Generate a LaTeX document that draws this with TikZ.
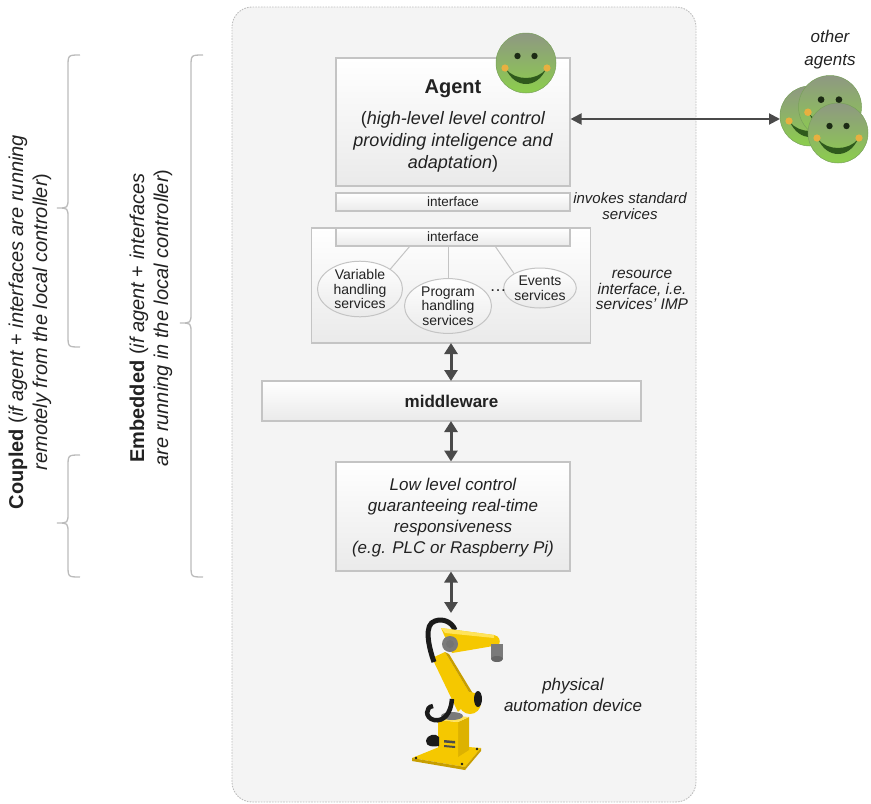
\documentclass[tikz,border=0pt]{standalone}
\usepackage{fontspec}
\setmainfont{Liberation Sans}
\usetikzlibrary{arrows.meta,shapes.geometric}

\definecolor{panel}{HTML}{F4F4F4}
\definecolor{panelline}{HTML}{BDBDBD}
\definecolor{boxline}{HTML}{C4C4C4}
\definecolor{boxbot}{HTML}{EAEAEA}
\definecolor{ink}{HTML}{222222}
\definecolor{arrowc}{HTML}{4A4A4A}
\definecolor{bracec}{HTML}{BBBBBB}
\definecolor{smtop}{RGB}{142,152,130}
\definecolor{smbot}{RGB}{140,206,76}
\definecolor{smedge}{RGB}{120,160,90}
\definecolor{smeye}{HTML}{1C2A14}
\definecolor{smmouth}{HTML}{2F5A1C}
\definecolor{cheek}{HTML}{E8B040}
\definecolor{yel}{HTML}{F5C800}
\definecolor{yeldark}{HTML}{C79E00}
\definecolor{yelside}{HTML}{DDB200}
\definecolor{yellight}{HTML}{FFE35A}
\definecolor{cable}{HTML}{1A1A1A}
\definecolor{jointc}{HTML}{7A7A7A}

\begin{document}
\begin{tikzpicture}[x=1pt,y=-1pt,
  box/.style={draw=boxline, line width=1.1pt, top color=white, bottom color=boxbot,
    inner sep=0pt, text=ink},
  svc/.style={ellipse, draw=boxline, line width=1pt, top color=white, bottom color=boxbot,
    inner sep=0pt, text=ink, align=center, font=\fontsize{14}{14.5}\selectfont},
  note/.style={text=ink, align=center, font=\fontsize{15}{16}\selectfont\itshape},
  dbl/.style={{Triangle[width=13pt,length=11pt]}-{Triangle[width=13pt,length=11pt]},
    line width=3pt, draw=arrowc},
  link/.style={draw=boxline, line width=1pt},
  bracket/.style={draw=bracec, line width=1.3pt},
  smiley/.pic={
    \shade[top color=smtop, bottom color=smbot] (0,0) circle[radius=30];
    \draw[smedge, line width=0.5pt] (0,0) circle[radius=30];
    \fill[smeye] (-8.5,-7) circle[radius=3.2];
    \fill[smeye] (8.5,-7) circle[radius=3.2];
    \fill[smmouth] (-20,6) .. controls (-11,26) and (11,26) .. (20,6)
      .. controls (11,18) and (-11,18) .. (-20,6) -- cycle;
    \fill[cheek] (-21,5) circle[radius=3.6];
    \fill[cheek] (21,5) circle[radius=3.6];
  }]
\useasboundingbox (0,0) rectangle (871,804);

% dashed panel holding the controller stack
\draw[panelline, line width=0.9pt, dash pattern=on 1.6pt off 1.2pt, fill=panel,
  rounded corners=20pt] (232,7) rectangle (696,802);

% agent block
\node[box, minimum width=234pt, minimum height=128pt] (agent) at (453,122) {};
\node[text=ink, font=\fontsize{20}{24}\selectfont\bfseries, anchor=base] (agenttitle)
  at (453,93) {Agent};
\node[text=ink, align=center, font=\fontsize{18}{22}\selectfont] (agentdesc) at (453,142)
  {({\itshape high-level level control}\\{\itshape providing inteligence and}\\{\itshape adaptation})};
\pic at (526,63) {smiley};

% interfaces
\node[box, minimum width=234pt, minimum height=18pt, font=\fontsize{13.5}{14}\selectfont]
  (if1) at (453,202) {interface};
\node[note] (invokes) at (630,206) {invokes standard\\services};

\node[box, minimum width=279pt, minimum height=115pt] (res) at (451,285.5) {};
\node[box, minimum width=234pt, minimum height=18pt, font=\fontsize{13.5}{14}\selectfont]
  (if2) at (453,237) {interface};
\node[svc, minimum width=85pt, minimum height=52pt] (var) at (360,289)
  {Variable\\handling\\services};
\node[svc, minimum width=87pt, minimum height=52pt] (prog) at (448,306)
  {Program\\handling\\services};
\node[svc, minimum width=60pt, minimum height=40pt] (evt) at (540,288)
  {Events\\services};
\node[text=ink, font=\fontsize{17}{17}\selectfont] (dots) at (498,291) {\dots};
\draw[link] (410,246) -- (var.north east);
\draw[link] (if2.south -| prog.north) -- (prog.north);
\draw[link] (495,246) -- (evt.north west);
\node[note, font=\fontsize{15.5}{15.5}\selectfont\itshape] (resnote) at (642,290)
  {resource\\interface, i.e.\\services' IMP};

% middleware and low level control
\node[box, minimum width=379pt, minimum height=40pt, font=\fontsize{17}{20}\selectfont\bfseries]
  (mw) at (451.5,401) {middleware};
\node[box, minimum width=234pt, minimum height=109pt] (low) at (453,516.5) {};
\node[text=ink, align=center, font=\fontsize{17}{21}\selectfont\itshape] (lowtext) at (453,518)
  {Low level control\\guaranteeing real-time\\responsiveness\\(e.g. PLC or Raspberry Pi)};

\coordinate (robottop) at (451,613);
\draw[dbl] (451,343) -- (451,381);
\draw[dbl] (451,421) -- (451,461.5);
\draw[dbl] (451,571.5) -- (robottop);

% robot arm
\fill[yel] (412,758) -- (444,745) -- (481,748) -- (465,767) -- cycle;
\fill[yeldark] (412,758) -- (465,767) -- (465,770) -- (412,761) -- cycle;
\fill[yeldark] (465,767) -- (481,748) -- (481,751) -- (465,770) -- cycle;
\foreach \bx/\by in {416/758, 462/764, 477/749, 444/747}
  \fill[cable] (\bx,\by) circle[radius=1.3];
\fill[yelside] (458,722) -- (469,717) -- (469,750) -- (458,757) -- cycle;
\fill[yel] (438,720) -- (458,722) -- (458,757) -- (438,753) -- cycle;
\fill[yellight] (438,720) -- (449,715) -- (469,717) -- (458,722) -- cycle;
\fill[black!70] (444,740) -- (455,741) -- (455,743.5) -- (444,742.5) -- cycle;
\fill[black!70] (444,745) -- (455,746) -- (455,748) -- (444,747) -- cycle;
\fill[cable] (426,741) .. controls (427,734) and (436,733) .. (439,737) -- (439,746)
  .. controls (433,747) and (426,747) .. cycle;
\fill[jointc] (452,716) ellipse[x radius=11, y radius=4];
\fill[yel] (432,658) -- (445,652) -- (472,697) -- (458,712) -- cycle;
\fill[yeldark] (445,652) -- (449,654) -- (475,697) -- (472,697) -- cycle;
\fill[yel] (470,703) circle[radius=11];
\fill[cable] (478,699) ellipse[x radius=4, y radius=8];
\draw[cable, line width=4.5pt] (452,699) .. controls (451,713) and (444,722) .. (434,720)
  .. controls (425,718) and (425,707) .. (433,706);
\draw[cable, line width=5pt] (434,662) .. controls (428,645) and (424,624) .. (435,621)
  .. controls (443,618) and (452,622) .. (455,630);
\fill[yel] (441,628) -- (494,635) .. controls (499,636) and (501,640) .. (499,645)
  -- (470,650) -- (452,653) -- cycle;
\fill[yellight] (441,628) -- (494,635) -- (494,638) -- (445,633) -- cycle;
\fill[jointc] (450,644) circle[radius=8];
\fill[black!55] (450,644) circle[radius=4];
\fill[jointc] (491,644) rectangle (503,659);
\fill[black!60] (497,659) ellipse[x radius=6, y radius=3];
\node[note, font=\fontsize{17}{21}\selectfont\itshape] (robotnote) at (573,695)
  {physical\\automation device};

% other agents
\pic at (810,116) {smiley};
\pic[scale=1.05] at (830,107) {smiley};
\pic at (838,133) {smiley};
\coordinate (others) at (780,119);
\node[note, font=\fontsize{17}{23}\selectfont\itshape] (othertext) at (830,50)
  {other\\agents};
\draw[{Triangle[width=11pt,length=11pt]}-{Triangle[width=11pt,length=11pt]},
  line width=2pt, draw=arrowc] (agent.east |- 0,119) -- (others);

% braces for the two deployment variants
\draw[bracket] (80,55) .. controls (68,55) .. (68,67) -- (68,198)
  .. controls (68,208) .. (57,208) .. controls (68,208) .. (68,218) -- (68,335)
  .. controls (68,347) .. (80,347);
\draw[bracket] (80,455) .. controls (68,455) .. (68,467) -- (68,513)
  .. controls (68,523) .. (57,523) .. controls (68,523) .. (68,533) -- (68,565)
  .. controls (68,577) .. (80,577);
\draw[bracket] (203,55) .. controls (191,55) .. (191,67) -- (191,313)
  .. controls (191,323) .. (180,323) .. controls (191,323) .. (191,333) -- (191,565)
  .. controls (191,577) .. (203,577);

\node[rotate=90, text=ink, align=center, font=\fontsize{20}{24}\selectfont] (coupled)
  at (30,322)
  {\textbf{Coupled} ({\itshape if agent} + {\itshape interfaces are running}\\
   {\itshape remotely from the local controller})};
\node[rotate=90, text=ink, align=center, font=\fontsize{20}{24}\selectfont] (embedded)
  at (151,318)
  {\textbf{Embedded} ({\itshape if agent} + {\itshape interfaces}\\
   {\itshape are running in the local controller})};
\end{tikzpicture}
\end{document}
